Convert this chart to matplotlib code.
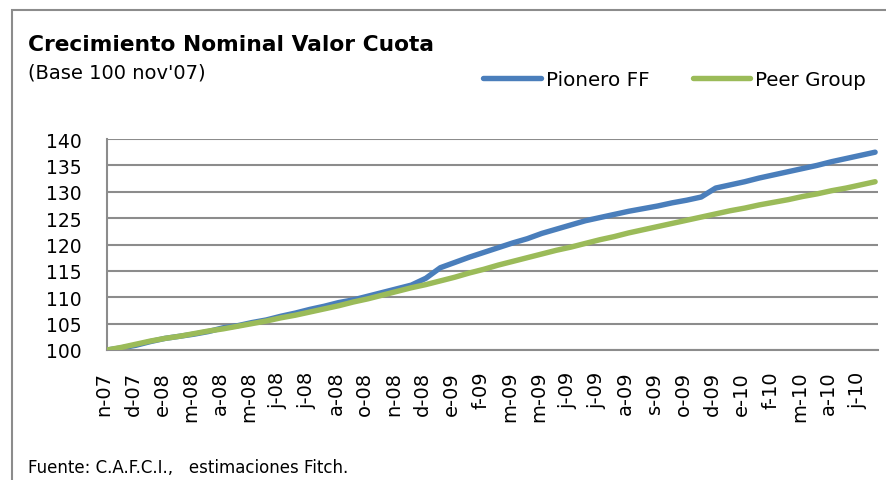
import matplotlib
matplotlib.use("Agg")
import matplotlib.pyplot as plt
from matplotlib.patches import Rectangle
import matplotlib.transforms as mtransforms

# tick labels (category axis, one label per tick)
tick_labels = ["n-07", "d-07", "e-08", "m-08", "a-08", "m-08", "j-08", "j-08", "a-08",
               "o-08", "n-08", "d-08", "e-09", "f-09", "m-09", "m-09", "j-09", "j-09",
               "a-09", "s-09", "o-09", "d-09", "e-10", "f-10", "m-10", "a-10", "j-10"]

# series sampled every half tick interval
pionero = [100.0, 100.4, 100.9, 101.6, 102.2, 102.6, 103.0, 103.5, 104.2, 104.6,
           105.2, 105.7, 106.4, 107.0, 107.7, 108.3, 109.0, 109.5, 110.2, 110.9,
           111.6, 112.3, 113.6, 115.6, 116.6, 117.6, 118.5, 119.4, 120.3, 121.1,
           122.1, 122.9, 123.7, 124.5, 125.1, 125.7, 126.3, 126.8, 127.3, 127.9,
           128.4, 129.0, 130.7, 131.3, 131.9, 132.6, 133.2, 133.8, 134.4, 135.0,
           135.7, 136.3, 136.9, 137.5]
peer = [100.0, 100.5, 101.1, 101.7, 102.2, 102.6, 103.1, 103.6, 104.0, 104.5,
        105.0, 105.5, 106.1, 106.6, 107.2, 107.8, 108.4, 109.1, 109.7, 110.4,
        111.1, 111.8, 112.4, 113.1, 113.8, 114.6, 115.3, 116.1, 116.8, 117.5,
        118.2, 118.9, 119.5, 120.2, 120.9, 121.5, 122.2, 122.8, 123.4, 124.0,
        124.6, 125.2, 125.8, 126.4, 126.9, 127.5, 128.0, 128.5, 129.1, 129.6,
        130.2, 130.7, 131.3, 131.9]
series_names = ["Pionero FF", "Peer Group"]
yticks = [100, 105, 110, 115, 120, 125, 130, 135, 140]

plt.rcParams['font.family'] = ['DejaVu Sans']

W, H = 887, 481
fig = plt.figure(figsize=(W / 100, H / 100), dpi=100)

# outer frame
fig.patches.append(Rectangle((12 / W, -0.1), 1.2, 1 - 11 / H + 0.1, transform=fig.transFigure,
                             fill=False, edgecolor="#8c8c8c", linewidth=1.5))

ax = fig.add_axes([107 / W, 1 - 351 / H, (878 - 107) / W, (351 - 140) / H])
x = [i * 0.5 for i in range(len(pionero))]
blue = "#4a7ebb"
green = "#9bbb59"
ax.plot(x, peer, color=green, lw=3.9, solid_capstyle="round", zorder=3, label=series_names[1])
ax.plot(x, pionero, color=blue, lw=3.9, solid_capstyle="round", zorder=2, label=series_names[0])

ax.set_ylim(100, 140)
ax.set_xlim(0, 26.6)
ax.set_yticks(yticks)
ax.set_yticklabels([str(v) for v in yticks], fontsize=13.5)
ax.set_xticks(range(len(tick_labels)))
ax.set_xticklabels(tick_labels, rotation=90, fontsize=14)
ax.tick_params(axis="y", length=0, pad=18)
ax.tick_params(axis="x", length=0, pad=15)
offset = mtransforms.ScaledTranslation(-3 / 100, 0, fig.dpi_scale_trans)
for lab in ax.get_xticklabels():
    lab.set_transform(lab.get_transform() + offset)
ax.grid(axis="y", color="#8c8c8c", linewidth=1.5)
ax.set_axisbelow(True)
for s in ["top", "right"]:
    ax.spines[s].set_visible(False)
for s in ["left", "bottom"]:
    ax.spines[s].set_color("#8c8c8c")
    ax.spines[s].set_linewidth(1.5)

fig.text(28 / W, 1 - 45 / H, "Crecimiento Nominal Valor Cuota", fontsize=15.7, fontweight="bold",
         va="center", ha="left")
fig.text(28 / W, 1 - 73 / H, "(Base 100 nov'07)", fontsize=14, va="center", ha="left")
fig.text(28 / W, 1 - 468 / H, "Fuente: C.A.F.C.I.,   estimaciones Fitch.", fontsize=12,
         va="center", ha="left")

handles, labels = ax.get_legend_handles_labels()
leg = fig.legend(handles[::-1], labels[::-1], loc="center left", ncol=2,
                 bbox_to_anchor=(483 / W, 1 - 80 / H), frameon=False, fontsize=14.3,
                 handlelength=2.9, handletextpad=0.25, columnspacing=2.2,
                 borderaxespad=0, borderpad=0)

fig.savefig("out.png", dpi=100)
